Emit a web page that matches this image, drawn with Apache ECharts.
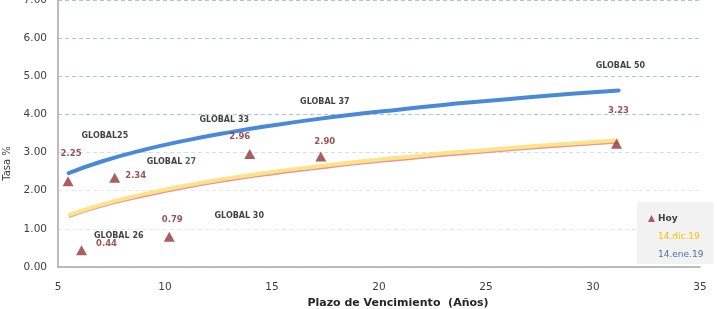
<!DOCTYPE html>
<html>
<head>
<meta charset="utf-8">
<script src="https://cdn.jsdelivr.net/npm/echarts@6/dist/echarts.min.js"></script>
<style>
  html, body { margin: 0; padding: 0; background: #fff; }
  #chart { width: 717px; height: 309px; }
</style>
</head>
<body>
<div id="chart"></div>
<script>
// plazos (años) de las curvas
var curveX = [5.5, 7, 9, 11, 13, 15, 17, 19, 21, 23, 25, 27, 29, 31.2];
var ene19 = [2.46, 2.76, 3.07, 3.32, 3.53, 3.71, 3.87, 4.01, 4.13, 4.25, 4.35, 4.45, 4.54, 4.63];
var dic19 = [1.36, 1.63, 1.91, 2.14, 2.33, 2.49, 2.63, 2.76, 2.87, 2.98, 3.07, 3.16, 3.24, 3.32];
var hoyCurve = [1.32, 1.59, 1.86, 2.09, 2.28, 2.44, 2.58, 2.71, 2.82, 2.93, 3.02, 3.11, 3.19, 3.28];

// bonos hoy
var hoyX = [5.47, 6.1, 7.65, 10.2, 13.96, 17.28, 31.1];
var hoyY = [2.25, 0.44, 2.34, 0.79, 2.96, 2.90, 3.23];
var hoyLabelOffset = [[3, -27], [25, -6], [21, -2], [3, -17], [-10, -17], [4, -15], [2, -33]];

// nombres de los bonos
var bondNames = ['GLOBAL25', 'GLOBAL 26', '{a|GLOBAL }{b|27}', 'GLOBAL 30', 'GLOBAL 33', 'GLOBAL 37', 'GLOBAL 50'];
var bondNameX = [7.19, 7.84, 10.3, 13.47, 12.77, 17.47, 31.28];
var bondNameY = [3.43, 0.81, 2.75, 1.34, 3.85, 4.32, 5.26];

var xTicks = [5, 35, 5];
var yTicks = [0, 7, 1];

var chart = echarts.init(document.getElementById('chart'));

function pairs(xs, ys) {
    var out = [];
    for (var i = 0; i < xs.length; i++) out.push([xs[i], ys[i]]);
    return out;
}

var hoyData = [];
for (var i = 0; i < hoyX.length; i++) {
    hoyData.push({
        value: [hoyX[i], hoyY[i]],
        label: { offset: hoyLabelOffset[i] }
    });
}

var nameData = [];
for (var j = 0; j < bondNames.length; j++) {
    nameData.push({ value: [bondNameX[j], bondNameY[j]], label: { formatter: bondNames[j] } });
}

var font = 'DejaVu Sans';

var option = {
    animation: false,
    textStyle: { fontFamily: font },
    grid: { left: 58, right: 17, top: 0, bottom: 42, outerBoundsMode: 'none', containLabel: false },
    legend: {
        orient: 'vertical',
        left: 637,
        top: 202,
        width: 76,
        padding: [12, 10, 5, 11],
        itemGap: 9,
        itemWidth: 7,
        itemHeight: 7,
        backgroundColor: '#F2F2F2',
        selectedMode: false,
        textStyle: { fontFamily: font, fontSize: 9, color: '#404040', padding: [0, 0, 0, -2] },
        data: [
            { name: 'Hoy', icon: 'triangle', itemStyle: { color: '#953735' }, textStyle: { fontWeight: 'bold' } },
            { name: '14.dic.19', icon: 'rect', itemStyle: { color: 'rgba(0,0,0,0)', opacity: 0 }, lineStyle: { opacity: 0 }, textStyle: { color: '#FFC000' } },
            { name: '14.ene.19', icon: 'rect', itemStyle: { color: 'rgba(0,0,0,0)', opacity: 0 }, lineStyle: { opacity: 0 }, textStyle: { color: '#4F6FA8' } }
        ]
    },
    xAxis: {
        type: 'value',
        min: xTicks[0],
        max: xTicks[1],
        interval: xTicks[2],
        name: 'Plazo de Vencimiento  (Años)',
        nameLocation: 'middle',
        nameGap: 30,
        nameTextStyle: { fontFamily: font, fontSize: 11, fontWeight: 'bold', color: '#262626', padding: [0, 0, 0, 38] },
        axisLine: { lineStyle: { color: '#A6A6A6', width: 1.5 } },
        axisTick: { show: false },
        axisLabel: { fontFamily: font, fontSize: 10.5, color: '#404040', margin: 15 },
        splitLine: { show: false }
    },
    yAxis: {
        type: 'value',
        min: yTicks[0],
        max: yTicks[1],
        interval: yTicks[2],
        name: 'Tasa %',
        nameLocation: 'middle',
        nameGap: 37,
        nameRotate: 90,
        nameTextStyle: { fontFamily: font, fontSize: 10, color: '#404040', padding: [0, 60, 0, 0] },
        axisLine: { show: true, lineStyle: { color: '#A6A6A6', width: 1.5 } },
        axisTick: { show: false },
        axisLabel: {
            fontFamily: font, fontSize: 10.5, color: '#404040', margin: 11,
            formatter: function (v) { return v.toFixed(2); }
        },
        splitLine: {
            lineStyle: {
                type: [4, 3],
                color: ['#E3E8F2', '#E3E8F2', '#E3E8F2', '#D6DFF0', '#A9C3EE', '#A9C3EE', '#A9C3EE', '#A9C3EE']
            }
        }
    },
    series: [
        {
            name: '14.ene.19',
            type: 'line',
            smooth: true,
            showSymbol: false,
            data: pairs(curveX, ene19),
            lineStyle: { color: '#4A88D8', width: 4, cap: 'round' },
            itemStyle: { color: '#4A88D8' },
            z: 3
        },
        {
            name: 'curva hoy',
            type: 'line',
            smooth: true,
            showSymbol: false,
            data: pairs(curveX, hoyCurve),
            lineStyle: { color: '#E09A9A', width: 3 },
            itemStyle: { color: '#E09A9A' },
            z: 2
        },
        {
            name: '14.dic.19',
            type: 'line',
            smooth: true,
            showSymbol: false,
            data: pairs(curveX, dic19),
            lineStyle: { color: '#FFE28A', width: 4 },
            itemStyle: { color: '#FFE28A' },
            z: 3
        },
        {
            name: 'Hoy',
            type: 'scatter',
            symbol: 'triangle',
            symbolSize: [11, 10],
            itemStyle: { color: '#953735' },
            data: hoyData,
            label: {
                show: true,
                position: 'inside',
                formatter: function (p) { return p.value[1].toFixed(2); },
                fontFamily: font,
                fontSize: 8.5,
                fontWeight: 'bold',
                color: '#7F2B2B'
            },
            z: 5
        },
        {
            name: 'nombres',
            type: 'scatter',
            symbolSize: 0,
            silent: true,
            data: nameData,
            label: {
                show: true,
                position: 'inside',
                fontFamily: font,
                fontSize: 8,
                fontWeight: 'bold',
                color: '#111111',
                rich: {
                    a: { fontFamily: font, fontSize: 8, fontWeight: 'bold', color: '#111111' },
                    b: { fontFamily: font, fontSize: 8, fontWeight: 'bold', color: '#1F3864' }
                }
            },
            z: 6
        }
    ]
};

chart.setOption(option);
</script>
</body>
</html>
